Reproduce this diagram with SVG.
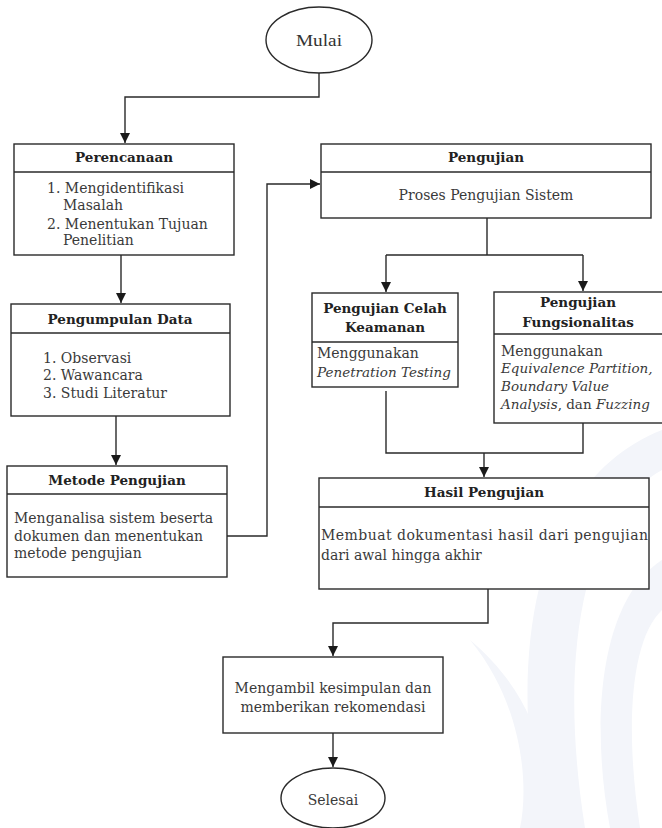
<svg xmlns="http://www.w3.org/2000/svg" width="662" height="828" viewBox="0 0 662 828">
<defs>
<marker id="ah" markerUnits="userSpaceOnUse" markerWidth="10" markerHeight="10" viewBox="0 0 10 10" refX="10" refY="5" orient="auto">
<path d="M0,0 L10,5 L0,10 z" fill="#1a1a1a"/>
</marker>
<style>
.box{fill:#fff;stroke:#2a2a2a;stroke-width:1.4}
.sep{stroke:#2a2a2a;stroke-width:1.4}
.hd{font-family:"DejaVu Serif","Noto Serif",serif;font-weight:bold;font-size:13.5px;fill:#222;text-anchor:middle}
.tx{font-family:"DejaVu Serif","Noto Serif",serif;font-size:14px;fill:#3a3a3a}
.it{font-style:italic;font-size:13.5px}
.mid{text-anchor:middle}
.cn{fill:none;stroke:#2a2a2a;stroke-width:1.4}
.ar{marker-end:url(#ah)}
.tm{font-family:"Liberation Serif","Times New Roman",serif;font-size:16px;fill:#333;text-anchor:middle}
.wm{fill:#f3f5fa}
</style>
</defs>
<rect width="662" height="828" fill="#fff"/>
<g id="watermark">
<path class="wm" d="M662 430 C560 470 500 600 540 828 L585 828 C555 640 590 510 662 470 Z"/>
<path class="wm" d="M662 560 C600 600 590 720 610 828 L640 828 C625 730 630 640 662 610 Z"/>
<path class="wm" d="M470 640 C520 700 530 780 520 828 L545 828 C555 760 530 690 470 640 Z"/>
</g>
<g id="connectors">
<path class="cn ar" d="M319 73 V97 H125 V143"/>
<path class="cn ar" d="M121 255 V303"/>
<path class="cn ar" d="M116 416 V465"/>
<path class="cn ar" d="M227 536 H267 V184 H320"/>
<path class="cn" d="M487 218 V255 M386 255 H583"/>
<path class="cn ar" d="M386 255 V292"/>
<path class="cn ar" d="M583 255 V291"/>
<path class="cn" d="M386 391 V453 H583 V423"/>
<path class="cn ar" d="M484 453 V477"/>
<path class="cn ar" d="M488 589 V623 H333 V656"/>
<path class="cn ar" d="M333 733 V767"/>
</g>
<g id="mulai">
<ellipse class="box" cx="319" cy="40" rx="53" ry="33"/>
<text class="tm" x="319" y="46" textLength="46" lengthAdjust="spacingAndGlyphs">Mulai</text>
</g>
<g id="perencanaan">
<rect class="box" x="14" y="144" width="220" height="111"/>
<line class="sep" x1="14" y1="172" x2="234" y2="172"/>
<text class="hd" x="124" y="162">Perencanaan</text>
<text class="tx" x="47" y="193">1. Mengidentifikasi</text>
<text class="tx" x="63" y="210">Masalah</text>
<text class="tx" x="47" y="229">2. Menentukan Tujuan</text>
<text class="tx" x="63" y="245">Penelitian</text>
</g>
<g id="pengumpulan">
<rect class="box" x="11" y="304" width="219" height="112"/>
<line class="sep" x1="11" y1="333" x2="230" y2="333"/>
<text class="hd" x="120" y="324">Pengumpulan Data</text>
<text class="tx" x="43" y="363">1. Observasi</text>
<text class="tx" x="43" y="380">2. Wawancara</text>
<text class="tx" x="43" y="398">3. Studi Literatur</text>
</g>
<g id="metode">
<rect class="box" x="7" y="466" width="220" height="111"/>
<line class="sep" x1="7" y1="494" x2="227" y2="494"/>
<text class="hd" x="117" y="485">Metode Pengujian</text>
<text class="tx" x="14" y="523">Menganalisa sistem beserta</text>
<text class="tx" x="14" y="541">dokumen dan menentukan</text>
<text class="tx" x="14" y="558">metode pengujian</text>
</g>
<g id="pengujian">
<rect class="box" x="321" y="144" width="330" height="74"/>
<line class="sep" x1="321" y1="172" x2="651" y2="172"/>
<text class="hd" x="486" y="162">Pengujian</text>
<text class="tx mid" x="486" y="200">Proses Pengujian Sistem</text>
</g>
<g id="celah">
<rect class="box" x="312" y="293" width="146" height="94"/>
<line class="sep" x1="312" y1="342" x2="458" y2="342"/>
<text class="hd" x="385" y="313">Pengujian Celah</text>
<text class="hd" x="385" y="332">Keamanan</text>
<text class="tx" x="317" y="358">Menggunakan</text>
<text class="tx it" x="317" y="377">Penetration Testing</text>
</g>
<g id="fungsionalitas">
<rect class="box" x="494" y="292" width="172" height="131"/>
<line class="sep" x1="494" y1="334" x2="666" y2="334"/>
<text class="hd" x="578" y="307">Pengujian</text>
<text class="hd" x="578" y="327">Fungsionalitas</text>
<text class="tx" x="501" y="356">Menggunakan</text>
<text class="tx it" x="501" y="373">Equivalence Partition,</text>
<text class="tx it" x="501" y="391">Boundary Value</text>
<text class="tx" x="501" y="409" style="font-size:13.5px"><tspan class="it">Analysis</tspan>, dan <tspan class="it">Fuzzing</tspan></text>
</g>
<g id="hasil">
<rect class="box" x="319" y="478" width="330" height="111"/>
<line class="sep" x1="319" y1="507" x2="649" y2="507"/>
<text class="hd" x="484" y="497">Hasil Pengujian</text>
<text class="tx" x="321" y="540" textLength="327" lengthAdjust="spacing">Membuat dokumentasi hasil dari pengujian</text>
<text class="tx" x="321" y="560">dari awal hingga akhir</text>
</g>
<g id="kesimpulan">
<rect class="box" x="223" y="657" width="220" height="76"/>
<text class="tx mid" x="333" y="693">Mengambil kesimpulan dan</text>
<text class="tx mid" x="333" y="712">memberikan rekomendasi</text>
</g>
<g id="selesai">
<ellipse class="box" cx="333" cy="798" rx="52" ry="30"/>
<text class="tx mid" x="333" y="805">Selesai</text>
</g>
</svg>
